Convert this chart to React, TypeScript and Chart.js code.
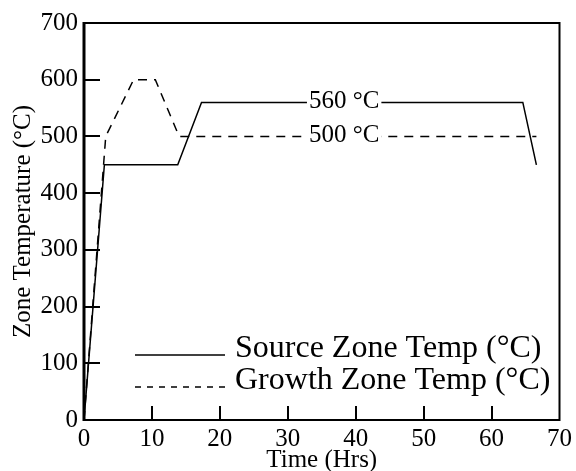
import React, { useEffect, useRef } from "react";
import { Chart, registerables } from "chart.js";

Chart.register(...registerables);

const FONT = "'Liberation Serif', 'Times New Roman', serif";

// Data
const sourceTime = [0, 3, 13.8, 17.3, 64.6, 66.6];
const sourceTemp = [0, 450, 450, 560, 560, 450];
const growthTime = [0, 3.2, 7.3, 10.5, 14, 66.6];
const growthTemp = [0, 500, 600, 600, 500, 500];

const xTickValues = [0, 10, 20, 30, 40, 50, 60, 70];
const yTickValues = [0, 100, 200, 300, 400, 500, 600, 700];

const seriesLabels = ["Source Zone Temp (°C)", "Growth Zone Temp (°C)"];
const annotationTexts = ["560 °C", "500 °C"];
const annotationX = [38.3, 38.3];
const annotationY = [560, 500];

const xTitle = "Time (Hrs)";
const yTitle = "Zone Temperature (°C)";

const overlayPlugin = {
  id: "overlay",
  afterDraw(chart: any) {
    const { ctx, chartArea, scales } = chart;
    const { left, right, top, bottom } = chartArea;
    const xs = scales.x;
    const ys = scales.y;
    ctx.save();

    // inline annotations with white background
    ctx.font = `25px ${FONT}`;
    ctx.textAlign = "center";
    ctx.textBaseline = "middle";
    annotationTexts.forEach((t, i) => {
      const px = xs.getPixelForValue(annotationX[i]);
      const py = ys.getPixelForValue(annotationY[i]);
      const w = ctx.measureText(t).width;
      ctx.fillStyle = "#fff";
      ctx.fillRect(px - w / 2 - 2, py - 10, w + 4, 20);
      ctx.fillStyle = "#000";
      ctx.fillText(t, px, py - 1);
    });

    ctx.setLineDash([]);
    ctx.strokeStyle = "#000000";

    // inward tick marks
    ctx.fillStyle = "#000000";
    yTickValues.forEach((v, i) => {
      if (i === 0 || i === yTickValues.length - 1) return;
      const py = Math.round(ys.getPixelForValue(v));
      ctx.fillRect(left, py - 1, 16, 2);
    });
    xTickValues.forEach((v, i) => {
      if (i === 0 || i === xTickValues.length - 1) return;
      const px = Math.round(xs.getPixelForValue(v));
      ctx.fillRect(px - 1, bottom - 14, 2, 14);
    });

    // frame
    ctx.lineWidth = 2;
    ctx.beginPath();
    ctx.moveTo(left, top);
    ctx.lineTo(right, top);
    ctx.lineTo(right, bottom);
    ctx.lineTo(left, bottom);
    ctx.stroke();
    ctx.lineWidth = 3;
    ctx.beginPath();
    ctx.moveTo(left, top - 1);
    ctx.lineTo(left, bottom + 1);
    ctx.stroke();

    // legend
    const lx0 = left + 51;
    const lx1 = left + 141;
    const tx = left + 151;
    const rows = [bottom - 65, bottom - 33];
    ctx.font = `32px ${FONT}`;
    ctx.textAlign = "left";
    ctx.textBaseline = "alphabetic";
    rows.forEach((ry, i) => {
      ctx.lineWidth = 1.5;
      ctx.setLineDash(i === 0 ? [] : [6, 6]);
      ctx.beginPath();
      ctx.moveTo(lx0, ry);
      ctx.lineTo(lx1, ry);
      ctx.stroke();
      ctx.setLineDash([]);
      ctx.fillStyle = "#000";
      ctx.fillText(seriesLabels[i], tx, ry + 2);
    });

    ctx.restore();
  },
};

export default function App() {
  const canvasRef = useRef<HTMLCanvasElement | null>(null);

  useEffect(() => {
    document.body.style.margin = "0";
    const canvas = canvasRef.current;
    if (!canvas) return;
    Chart.defaults.font.family = FONT;
    Chart.defaults.color = "#000";

    const chart = new Chart(canvas, {
      type: "line",
      data: {
        datasets: [
          {
            label: seriesLabels[0],
            data: sourceTime.map((t, i) => ({ x: t, y: sourceTemp[i] })),
            borderColor: "#000",
            borderWidth: 1.5,
            pointRadius: 0,
            tension: 0,
            fill: false,
          },
          {
            label: seriesLabels[1],
            data: growthTime.map((t, i) => ({ x: t, y: growthTemp[i] })),
            borderColor: "#000",
            borderWidth: 1.5,
            borderDash: [9, 7],
            pointRadius: 0,
            tension: 0,
            fill: false,
          },
        ],
      },
      options: {
        animation: false,
        responsive: false,
        layout: { padding: { left: 0, right: 15, top: 23, bottom: 0 } },
        plugins: {
          legend: { display: false },
          tooltip: { enabled: false },
        },
        scales: {
          x: {
            type: "linear",
            min: 0,
            max: 70,
            afterBuildTicks: (scale: any) => {
              scale.ticks = xTickValues.map((v) => ({ value: v }));
            },
            afterFit: (scale: any) => {
              scale.height = 51;
            },
            grid: { display: false, drawTicks: false },
            border: { display: false },
            ticks: {
              padding: 4,
              maxRotation: 0,
              autoSkip: false,
              font: { size: 25, family: FONT },
              color: "#000",
            },
            title: {
              display: true,
              text: xTitle,
              font: { size: 25, family: FONT, lineHeight: 1 },
              color: "#000",
              padding: { top: 0, bottom: -2 },
            },
          },
          y: {
            type: "linear",
            min: 0,
            max: 700,
            afterBuildTicks: (scale: any) => {
              scale.ticks = yTickValues.map((v) => ({ value: v }));
            },
            afterFit: (scale: any) => {
              scale.width = 84;
            },
            grid: { display: false, drawTicks: false },
            border: { display: false },
            ticks: {
              padding: 6,
              autoSkip: false,
              font: { size: 25, family: FONT },
              color: "#000",
            },
            title: {
              display: true,
              text: yTitle,
              font: { size: 25, family: FONT },
              color: "#000",
              padding: { top: 8, bottom: 0 },
            },
          },
        },
      },
      plugins: [overlayPlugin],
    });

    return () => chart.destroy();
  }, []);

  return (
    <div style={{ width: 576, height: 471 }}>
      <canvas ref={canvasRef} width={576} height={471} />
    </div>
  );
}
